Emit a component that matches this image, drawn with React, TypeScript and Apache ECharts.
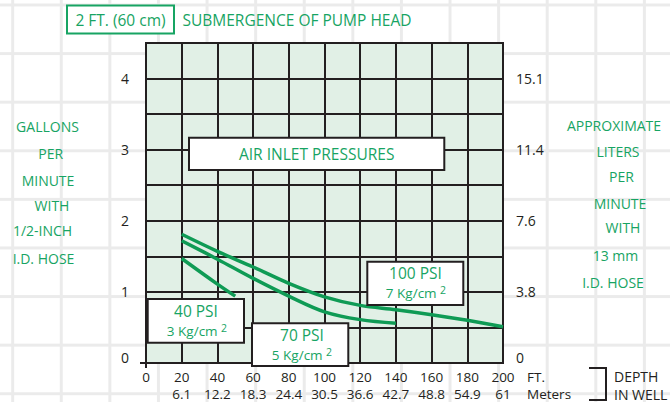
import React, { useEffect, useRef } from 'react';
import * as echarts from 'echarts';

// ---- data ----
const depthFt = [0, 20, 40, 60, 80, 100, 120, 140, 160, 180, 200];
const depthM = ['', '6.1', '12.2', '18.3', '24.4', '30.5', '36.6', '42.7', '48.8', '54.9', '61'];
const gpmTicks = [0, 1, 2, 3, 4];
const lpmTicks = ['0', '3.8', '7.6', '11.4', '15.1'];

const psi100Depth = [20, 40, 60, 80, 100, 120, 140, 160, 180, 200];
const psi100Gpm = [1.81, 1.57, 1.35, 1.12, 0.93, 0.81, 0.75, 0.68, 0.6, 0.51];
const psi70Depth = [20, 40, 60, 80, 100, 120, 140];
const psi70Gpm = [1.72, 1.46, 1.19, 0.94, 0.72, 0.61, 0.56];
const psi40Depth = [20, 40, 50];
const psi40Gpm = [1.47, 1.11, 0.94];

const leftTitle = ['GALLONS', 'PER', 'MINUTE', 'WITH', '1/2-INCH', 'I.D. HOSE'];
const rightTitle = ['APPROXIMATE', 'LITERS', 'PER', 'MINUTE', 'WITH', '13 mm', 'I.D. HOSE'];

// ---- style ----
const GREEN = '#17a463';
const LINE_GREEN = '#0f9b55';
const INK = '#231f20';
const FONT = '"Open Sans", "Noto Sans", sans-serif';

const leftPos = [[47.5, 126.5], [50.7, 153], [48, 180], [52, 205], [42.5, 230], [43.5, 258.3]];
const rightPos = [[614, 125.3], [618, 151], [621.5, 176], [620, 203], [623, 227.7], [615.5, 255.7], [613, 282]];

function txt(text: string, x: number, y: number, size: number, fill: string, align = 'center', extra: any = {}) {
  return {
    type: 'text',
    z: 100,
    style: {
      text,
      x,
      y,
      fill,
      fontSize: size,
      fontFamily: FONT,
      align,
      verticalAlign: 'middle',
      textAlign: align,
      textVerticalAlign: 'middle',
      ...extra,
    },
  };
}

function box(x: number, y: number, w: number, h: number, stroke = INK) {
  return {
    type: 'rect',
    z: 90,
    shape: { x, y, width: w, height: h },
    style: { fill: '#ffffff', stroke, lineWidth: 2 },
  };
}

function kgText(v: string, x: number, y: number) {
  return {
    type: 'text',
    z: 100,
    style: {
      text: `{m|${v} Kg/cm }{s|2}`,
      x,
      y,
      align: 'center',
      verticalAlign: 'middle',
      textAlign: 'center',
      textVerticalAlign: 'middle',
      rich: {
        m: { fontSize: 13.5, lineHeight: 18, fontFamily: FONT, fill: GREEN, color: GREEN },
        s: { fontSize: 10.5, lineHeight: 11, fontFamily: FONT, fill: GREEN, color: GREEN, verticalAlign: 'top' },
      },
    },
  };
}

function zip(xs: number[], ys: number[]) {
  return xs.map((x, i) => [x, ys[i]]);
}

export default function App() {
  const ref = useRef<HTMLDivElement>(null);
  useEffect(() => {
    if (!ref.current) return;
    const chart = echarts.init(ref.current, undefined, { renderer: 'svg' });
    const lineSeries = (name: string, data: number[][]) => ({
      name,
      type: 'line',
      data,
      smooth: 0.35,
      symbol: 'none',
      z: 5,
      lineStyle: { color: LINE_GREEN, width: 3.5 },
    });
    const yLabelFmt = (labels: string[]) => (v: number) => {
      const i = gpmTicks.indexOf(v);
      if (i < 0) return '';
      return i === 0 ? `{z|${labels[i]}}` : labels[i];
    };
    const graphic: any[] = [
      // title
      box(67, 5.5, 107, 28, GREEN),
      txt('2 FT. (60 cm)', 120.5, 19.7, 15.5, GREEN),
      txt('SUBMERGENCE OF PUMP HEAD', 182.5, 19.7, 15.5, GREEN, 'left'),
      // air inlet
      box(189, 137.7, 255.3, 32.3),
      txt('AIR INLET PRESSURES', 316.7, 154, 15.5, GREEN),
      // 100 psi
      box(367.3, 261.7, 96, 43.3),
      txt('100 PSI', 415.5, 273.3, 15.5, GREEN),
      kgText('7', 416, 293),
      // 40 psi
      box(147.7, 299, 96.3, 43.7),
      txt('40 PSI', 196, 311, 15.5, GREEN),
      kgText('3', 197, 331),
      // 70 psi
      box(252, 323.3, 96.3, 42.7),
      txt('70 PSI', 302, 334.7, 15.5, GREEN),
      kgText('5', 302, 355),
      // units at right of x axis
      txt('FT.', 527, 376.5, 13.5, INK, 'left'),
      txt('Meters', 527, 393.5, 13.5, INK, 'left'),
      txt('DEPTH', 614, 376, 14, INK, 'left'),
      txt('IN WELL', 614, 394, 14, INK, 'left'),
      {
        type: 'polyline',
        z: 100,
        shape: { points: [[589, 368], [606, 368], [606, 400], [589, 400]] },
        style: { stroke: INK, lineWidth: 2, fill: 'none' },
      },
      // small axis extension + tick
      { type: 'line', z: 100, shape: { x1: 140, y1: 363, x2: 147, y2: 363 }, style: { stroke: INK, lineWidth: 2 } },
      { type: 'line', z: 100, shape: { x1: 146, y1: 363, x2: 146, y2: 368 }, style: { stroke: INK, lineWidth: 2 } },
    ];
    leftTitle.forEach((t, i) => graphic.push(txt(t, leftPos[i][0], leftPos[i][1], 14, GREEN)));
    rightTitle.forEach((t, i) => graphic.push(txt(t, rightPos[i][0], rightPos[i][1], 14, GREEN)));

    chart.setOption({
      animation: false,
      backgroundColor: 'transparent',
      grid: {
        left: 146,
        right: 167,
        top: 43,
        bottom: 39,
        show: true,
        backgroundColor: '#e1f0e6',
        borderColor: INK,
        borderWidth: 2,
        containLabel: false,
      },
      xAxis: {
        type: 'value',
        min: 0,
        max: 200,
        interval: 20,
        axisLine: { show: true, lineStyle: { color: INK, width: 2 } },
        axisTick: { show: false },
        splitLine: { show: true, lineStyle: { color: INK, width: 2 } },
        axisLabel: {
          color: INK,
          fontSize: 13.5,
          fontFamily: FONT,
          lineHeight: 17,
          margin: 5,
          showMinLabel: true,
          showMaxLabel: true,
          formatter: (v: number) => {
            const i = depthFt.indexOf(v);
            return i < 0 ? '' : `${depthFt[i]}\n${depthM[i]}`;
          },
        },
      },
      yAxis: [
        {
          type: 'value',
          position: 'left',
          min: 0,
          max: 4.5,
          interval: 0.5,
          axisLine: { show: false },
          axisTick: { show: false },
          splitLine: { show: true, lineStyle: { color: INK, width: 2 } },
          axisLabel: {
            color: INK,
            fontSize: 14,
            fontFamily: FONT,
            margin: 17,
            formatter: yLabelFmt(gpmTicks.map(String)),
            rich: { z: { fontSize: 14, fontFamily: FONT, color: INK, padding: [0, 0, 12, 0] } },
          },
        },
        {
          type: 'value',
          position: 'right',
          min: 0,
          max: 4.5,
          interval: 0.5,
          axisLine: { show: false },
          axisTick: { show: false },
          splitLine: { show: false },
          axisLabel: {
            color: INK,
            fontSize: 14,
            fontFamily: FONT,
            margin: 13,
            formatter: yLabelFmt(lpmTicks),
            rich: { z: { fontSize: 14, fontFamily: FONT, color: INK, padding: [0, 0, 12, 0] } },
          },
        },
      ],
      series: [
        lineSeries('100 PSI', zip(psi100Depth, psi100Gpm)),
        lineSeries('70 PSI', zip(psi70Depth, psi70Gpm)),
        lineSeries('40 PSI', zip(psi40Depth, psi40Gpm)),
      ],
      graphic,
    });
    return () => chart.dispose();
  }, []);

  const bg = {
    position: 'fixed' as const,
    left: 0,
    top: 0,
    width: 670,
    height: 402,
    backgroundColor: '#ffffff',
    backgroundImage:
      'linear-gradient(to right, #ebebeb 3px, transparent 3px), linear-gradient(to bottom, #ebebeb 3px, transparent 3px)',
    backgroundSize: '48.6px 48.6px',
    backgroundPosition: '11.2px 3.5px',
  };
  return (
    <div style={bg}>
      <div ref={ref} style={{ width: 670, height: 402 }} />
    </div>
  );
}
